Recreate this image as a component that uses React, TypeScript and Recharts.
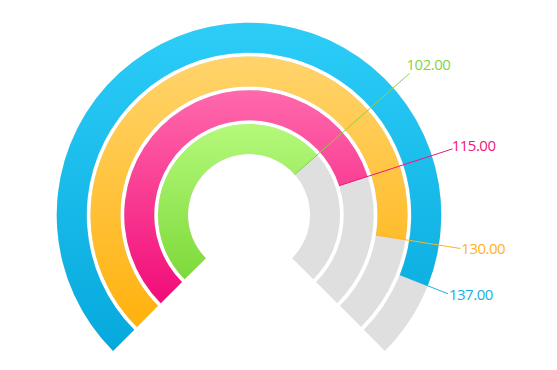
import React from 'react';
import { RadialBarChart, RadialBar, PolarAngleAxis, LabelList, Cell } from 'recharts';

const categories = ['Series A', 'Series B', 'Series C', 'Series D'];
const values = [102, 115, 130, 137];
const maxValue = 150;

const COLORS = [
  { top: '#B4F97B', bottom: '#7ED93A', text: '#84D63F' },
  { top: '#FF69AC', bottom: '#F20C78', text: '#F0167C' },
  { top: '#FFD46C', bottom: '#FFB20E', text: '#FFB321' },
  { top: '#2DCDF8', bottom: '#05A9DC', text: '#16B2E2' },
];

const LABEL_RADIUS = 214;

const data = categories.map((name, i) => ({ name, value: values[i] }));

const LeaderLabel = (props: any) => {
  const { viewBox, value, index } = props;
  if (!viewBox) return null;
  const { cx, cy, innerRadius, endAngle } = viewBox;
  const a = (endAngle * Math.PI) / 180;
  const x1 = cx + innerRadius * Math.cos(a);
  const y1 = cy - innerRadius * Math.sin(a);
  const x2 = cx + LABEL_RADIUS * Math.cos(a);
  const y2 = cy - LABEL_RADIUS * Math.sin(a);
  const up = Math.max(0, Math.sin(a));
  const color = COLORS[index].text;
  return (
    <g>
      <line x1={x1} y1={y1} x2={x2} y2={y2} stroke={color} strokeWidth={1} />
      <text
        x={x2 + 1 - up * 6}
        y={y2 - up * 14}
        fill={color}
        fontSize={15}
        letterSpacing={-0.5}
        fontFamily="'Open Sans', sans-serif"
        dominantBaseline="central"
      >
        {Number(value).toFixed(2)}
      </text>
    </g>
  );
};

export default function App() {
  return (
    <div style={{ width: 549, height: 362 }}>
      <RadialBarChart
        width={549}
        height={362}
        cx={241}
        cy={207}
        innerRadius={59}
        outerRadius={194}
        startAngle={225}
        endAngle={-45}
        barCategoryGap={2}
        data={data}
        margin={{ top: 0, right: 0, bottom: 0, left: 0 }}
      >
        <defs>
          {COLORS.map((c, i) => (
            <linearGradient key={i} id={`ring-${i}`} x1="0" y1="0" x2="0" y2="1">
              <stop offset="0%" stopColor={c.top} />
              <stop offset="100%" stopColor={c.bottom} />
            </linearGradient>
          ))}
        </defs>
        <PolarAngleAxis type="number" domain={[0, maxValue]} tick={false} axisLine={false} />
        <RadialBar dataKey="value" background={{ fill: '#DFDFDF' }} isAnimationActive={false}>
          {data.map((d, i) => (
            <Cell key={d.name} fill={`url(#ring-${i})`} />
          ))}
          <LabelList dataKey="value" content={LeaderLabel} />
        </RadialBar>
      </RadialBarChart>
    </div>
  );
}
